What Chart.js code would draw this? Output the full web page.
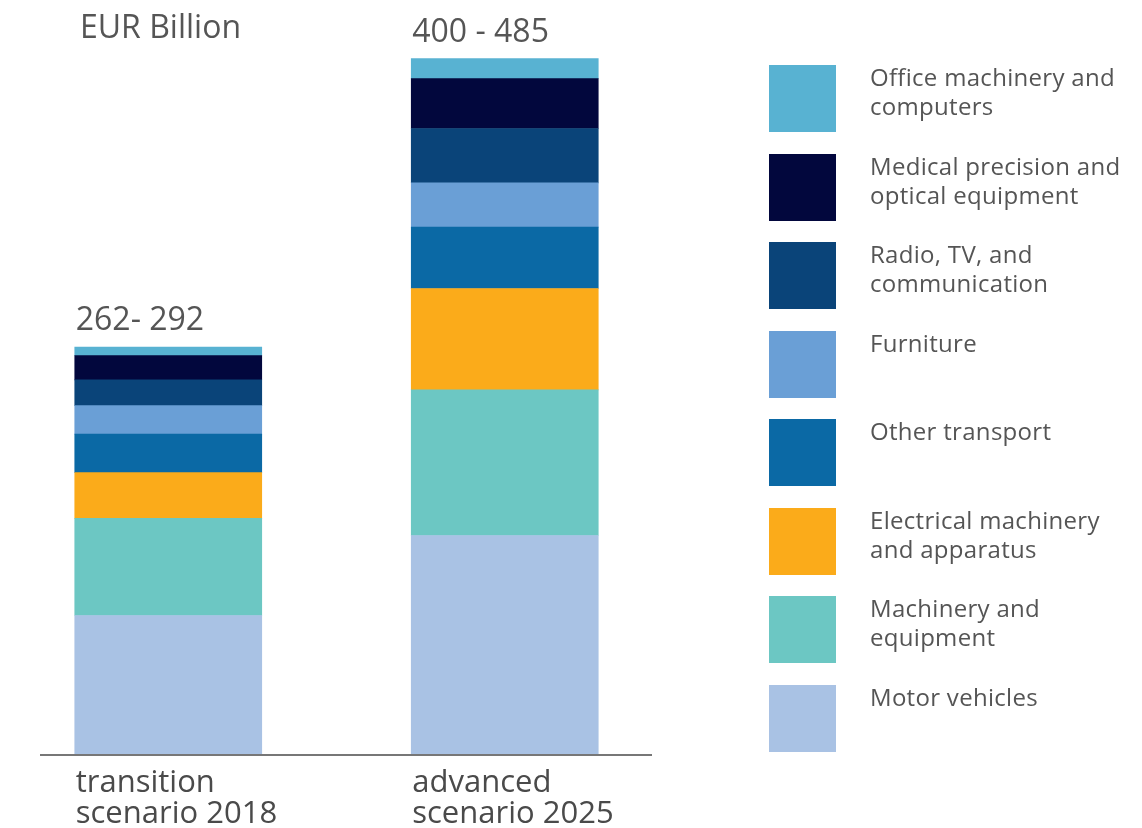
<!DOCTYPE html>
<html>
<head>
<meta charset="utf-8">
<title>Manufacturing value by sector</title>
<script src="https://cdn.jsdelivr.net/npm/chart.js@4.4.0/dist/chart.umd.min.js"></script>
<style>
  html, body { margin: 0; padding: 0; background: #fff; }
  body { width: 1142px; height: 828px; position: relative; overflow: hidden; font-family: "Open Sans", sans-serif; }
  #wrap { position: absolute; left: 0; top: 0; width: 1142px; height: 828px; }
  #legend { position: absolute; left: 769px; top: 65px; }
  .item { position: absolute; left: 0; width: 372px; height: 67px; }
  .swatch { position: absolute; left: 0; top: 0; width: 67px; height: 67px; }
  .txt { position: absolute; left: 101px; top: -3px; font-size: 24px; line-height: 29px; letter-spacing: 0.3px; color: #555; white-space: pre-line; }
</style>
</head>
<body>
<div id="wrap"><canvas id="myChart"></canvas></div>
<div id="legend"></div>
<script>
// scenarios on the x axis
const scenarios = [
  ['transition', 'scenario 2018'],
  ['advanced', 'scenario 2025'],
];
// range printed above each bar
const rangeLabels = ['262- 292', '400 - 485'];

// sectors, bottom of the stack first
const sectors = [
  'Motor vehicles',
  'Machinery and\nequipment',
  'Electrical machinery\nand apparatus',
  'Other transport',
  'Furniture',
  'Radio, TV, and\ncommunication',
  'Medical precision and\noptical equipment',
  'Office machinery and\ncomputers',
];
const colors = ['#a9c2e4', '#6cc7c3', '#fbab1a', '#0b69a5', '#6a9fd6', '#0a4479', '#02073d', '#58b2d2'];

// EUR billion per sector, [2018, 2025]
const motorVehicles = [97, 153];
const machinery = [68, 102];
const electrical = [32, 71];
const otherTransport = [27, 43];
const furniture = [20, 31];
const radioTv = [18, 38];
const medical = [17, 35];
const office = [6, 14];

const values = [motorVehicles, machinery, electrical, otherTransport, furniture, radioTv, medical, office];

const data = {
  labels: scenarios,
  datasets: sectors.map(function (name, i) {
    return {
      label: name,
      data: values[i],
      backgroundColor: colors[i],
      borderWidth: 0,
      barThickness: 187,
    };
  })
};

// text drawn on the canvas: unit, ranges, axis line, scenario names
const annotations = {
  id: 'annotations',
  afterDraw(chart) {
    const ctx = chart.ctx;
    const area = chart.chartArea;
    ctx.save();

    ctx.strokeStyle = '#777';
    ctx.lineWidth = 2;
    ctx.beginPath();
    ctx.moveTo(40, area.bottom + 1);
    ctx.lineTo(652, area.bottom + 1);
    ctx.stroke();

    ctx.fillStyle = '#555';
    ctx.textAlign = 'left';
    ctx.textBaseline = 'alphabetic';
    ctx.font = '32px "Open Sans"';
    ctx.fillText('EUR Billion', 80, 38);

    const topMeta = chart.getDatasetMeta(chart.data.datasets.length - 1);
    topMeta.data.forEach(function (bar, i) {
      const left = bar.x - bar.width / 2;
      ctx.font = '32px "Open Sans"';
      ctx.fillStyle = '#555';
      ctx.fillText(rangeLabels[i], left + 1, bar.y - 17);

      ctx.font = '31px "Open Sans"';
      ctx.fillStyle = '#4a4a4a';
      scenarios[i].forEach(function (line, j) {
        ctx.fillText(line, left + 1, area.bottom + 38 + j * 31);
      });
    });
    ctx.restore();
  }
};

const config = {
  type: 'bar',
  data: data,
  options: {
    responsive: true,
    maintainAspectRatio: false,
    animation: false,
    layout: { padding: { left: 0, right: 469, top: 40, bottom: 74 } },
    scales: {
      x: { stacked: true, display: false },
      y: { stacked: true, display: false, min: 0, max: 500 }
    },
    plugins: {
      legend: { display: false },
      tooltip: { enabled: false }
    }
  },
  plugins: [annotations]
};

const myChart = new Chart(document.getElementById('myChart'), config);

// legend: top of the stack listed first
const legend = document.getElementById('legend');
myChart.data.datasets.slice().reverse().forEach(function (ds, i) {
  const item = document.createElement('div');
  item.className = 'item';
  item.style.top = (i * 88.5) + 'px';
  const sw = document.createElement('div');
  sw.className = 'swatch';
  sw.style.background = ds.backgroundColor;
  const txt = document.createElement('div');
  txt.className = 'txt';
  txt.textContent = ds.label;
  item.appendChild(sw);
  item.appendChild(txt);
  legend.appendChild(item);
});
</script>
</body>
</html>
